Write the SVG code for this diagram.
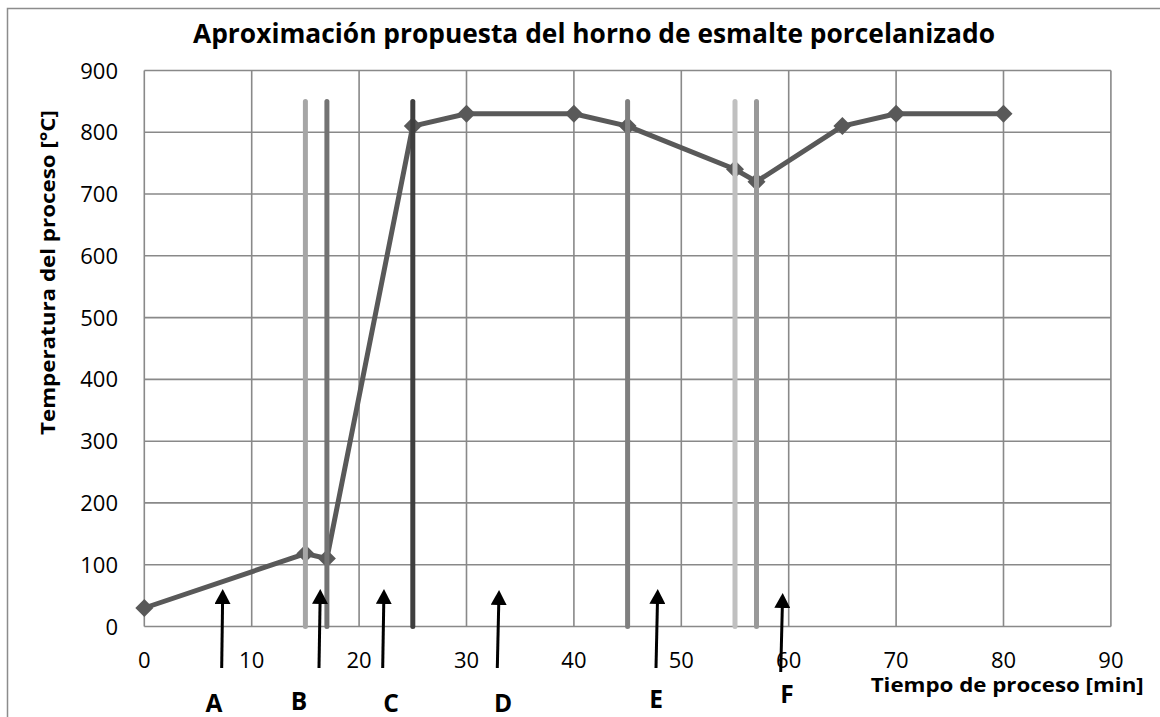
<svg xmlns="http://www.w3.org/2000/svg" width="1160" height="717" viewBox="0 0 1160 717">
<style>
.grid{stroke:#898989;stroke-width:1.6;fill:none}
.tick{font-family:"Open Sans","Liberation Sans",sans-serif;font-size:22px;fill:#000}
.bold{font-family:"Open Sans","Liberation Sans",sans-serif;font-weight:bold;fill:#000}
.bar{stroke-width:5;stroke-linecap:round;fill:none}
.series{stroke:#595959;stroke-width:5;stroke-linejoin:round;fill:none}
.dot{fill:#595959}
.arrow{stroke:#000;stroke-width:3;fill:none;marker-end:url(#ah)}
.lab{font-size:24.5px;text-anchor:middle}
</style>
<defs>
<marker id="ah" viewBox="0 0 15 16" markerWidth="15" markerHeight="16" refX="4" refY="8" orient="auto" markerUnits="userSpaceOnUse">
<path d="M0,0 L15,8 L0,16 z" fill="#000"/>
</marker>
<path id="dm" d="M0,-9 L9,0 L0,9 L-9,0 z"/>
</defs>
<rect x="0" y="0" width="1160" height="717" fill="#fff"/>
<rect x="7.5" y="8.5" width="1200" height="800" fill="none" stroke="#8c8c8c" stroke-width="1.5"/>
<text id="title" class="bold" x="594" y="43" font-size="26.5" text-anchor="middle" textLength="802" lengthAdjust="spacingAndGlyphs">Aproximación propuesta del horno de esmalte porcelanizado</text>
<g id="grid">
<path class="grid" d="M144.3,70.5V626.5M251.7,70.5V626.5M359.1,70.5V626.5M466.5,70.5V626.5M573.9,70.5V626.5M681.3,70.5V626.5M788.7,70.5V626.5M896.1,70.5V626.5M1003.5,70.5V626.5M1110.9,70.5V626.5"/>
<path class="grid" d="M144.3,70.5H1110.9M144.3,132.3H1110.9M144.3,194H1110.9M144.3,255.8H1110.9M144.3,317.6H1110.9M144.3,379.4H1110.9M144.3,441.2H1110.9M144.3,502.9H1110.9M144.3,564.7H1110.9M144.3,626.5H1110.9"/>
</g>
<g id="y-ticks" class="tick" text-anchor="end">
<text x="118" y="78.5">900</text>
<text x="118" y="140.3">800</text>
<text x="118" y="202">700</text>
<text x="118" y="263.8">600</text>
<text x="118" y="325.6">500</text>
<text x="118" y="387.4">400</text>
<text x="118" y="449.2">300</text>
<text x="118" y="510.9">200</text>
<text x="118" y="572.7">100</text>
<text x="118" y="634.5">0</text>
</g>
<g id="x-ticks" class="tick" text-anchor="middle">
<text x="144.3" y="667.5">0</text>
<text x="251.7" y="667.5">10</text>
<text x="359.1" y="667.5">20</text>
<text x="466.5" y="667.5">30</text>
<text x="573.9" y="667.5">40</text>
<text x="681.3" y="667.5">50</text>
<text x="788.7" y="667.5">60</text>
<text x="896.1" y="667.5">70</text>
<text x="1003.5" y="667.5">80</text>
<text x="1110.9" y="667.5">90</text>
</g>
<text id="y-title" class="bold" font-size="19.5" text-anchor="middle" transform="translate(55,272.5) rotate(-90)" textLength="325" lengthAdjust="spacingAndGlyphs">Temperatura del proceso [°C]</text>
<text id="x-title" class="bold" font-size="19.5" x="870.7" y="692" textLength="273" lengthAdjust="spacingAndGlyphs">Tiempo de proceso [min]</text>
<g id="series">
<polyline class="series" points="144.3,608 305.4,553.6 326.9,558.5 412.8,126.1 466.5,113.7 573.9,113.7 627.6,126.1 735,169.3 756.5,181.7 842.4,126.1 896.1,113.7 1003.5,113.7"/>
<g class="dot">
<use href="#dm" x="144.3" y="608"/>
<use href="#dm" x="305.4" y="553.6"/>
<use href="#dm" x="326.9" y="558.5"/>
<use href="#dm" x="412.8" y="126.1"/>
<use href="#dm" x="466.5" y="113.7"/>
<use href="#dm" x="573.9" y="113.7"/>
<use href="#dm" x="627.6" y="126.1"/>
<use href="#dm" x="735" y="169.3"/>
<use href="#dm" x="756.5" y="181.7"/>
<use href="#dm" x="842.4" y="126.1"/>
<use href="#dm" x="896.1" y="113.7"/>
<use href="#dm" x="1003.5" y="113.7"/>
</g>
</g>
<g id="bands">
<line id="band-15" class="bar" stroke="#a6a6a6" x1="305.4" y1="101.4" x2="305.4" y2="626.5"/>
<line id="band-17" class="bar" stroke="#737373" x1="326.9" y1="101.4" x2="326.9" y2="626.5"/>
<line id="band-25" class="bar" stroke="#3f3f3f" stroke-width="5.5" x1="412.8" y1="101.4" x2="412.8" y2="626.5"/>
<line id="band-45" class="bar" stroke="#7f7f7f" x1="627.6" y1="101.4" x2="627.6" y2="626.5"/>
<line id="band-55" class="bar" stroke="#c0c0c0" x1="735" y1="101.4" x2="735" y2="626.5"/>
<line id="band-57" class="bar" stroke="#999999" x1="756.5" y1="101.4" x2="756.5" y2="626.5"/>
</g>
<g id="connectors">
<line class="arrow" x1="221.7" y1="668" x2="222.6" y2="600"/>
<line class="arrow" x1="319" y1="668" x2="320.1" y2="600"/>
<line class="arrow" x1="382.7" y1="668" x2="383.8" y2="600"/>
<line class="arrow" x1="497.3" y1="668" x2="498.8" y2="601"/>
<line class="arrow" x1="656" y1="668" x2="657.5" y2="600"/>
<line class="arrow" x1="780.7" y1="672" x2="782.4" y2="604"/>
</g>
<g id="labels" class="bold">
<text id="label-A" class="lab" x="214" y="712">A</text>
<text id="label-B" class="lab" x="299" y="710">B</text>
<text id="label-C" class="lab" x="391" y="712">C</text>
<text id="label-D" class="lab" x="503" y="712">D</text>
<text id="label-E" class="lab" x="656" y="708">E</text>
<text id="label-F" class="lab" x="787" y="703">F</text>
</g>
</svg>
